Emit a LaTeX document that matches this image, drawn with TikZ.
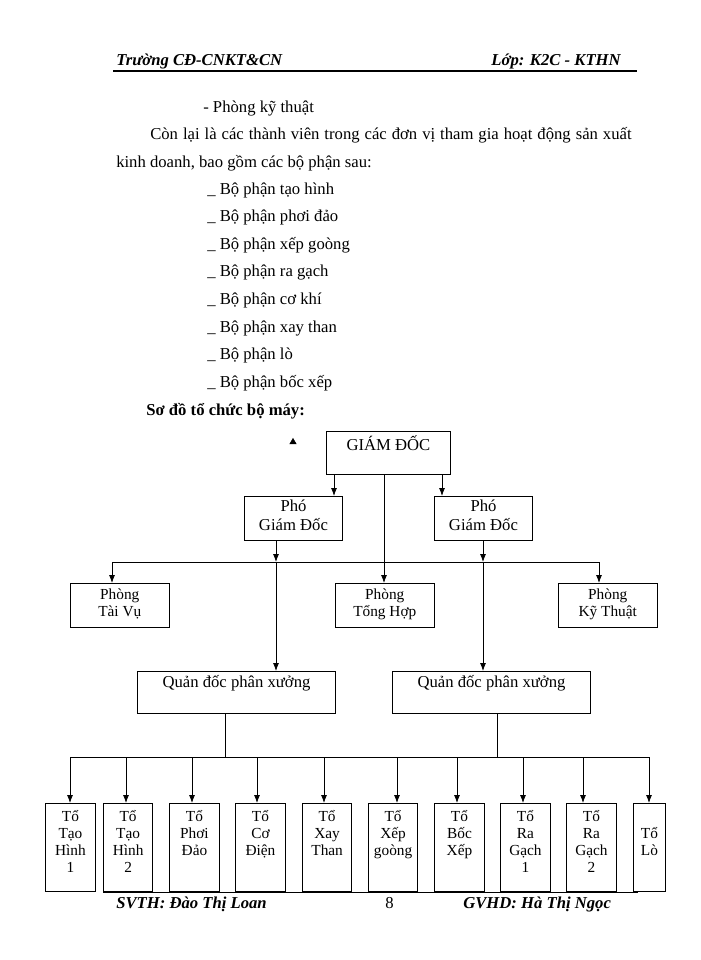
\documentclass[tikz,border=0pt]{standalone}
\usepackage{fontspec}
\setmainfont{Liberation Serif}
\usetikzlibrary{arrows.meta,shapes.geometric}
\newcommand\bxt[4]{\parbox[c][#2pt][t]{#1pt}{\centering\vspace*{#3pt}#4}}
\begin{document}
\begin{tikzpicture}[x=0.75pt,y=-0.75pt,
  box/.style={draw,line width=0.7pt,inner sep=0pt,anchor=north west},
  arr/.style={line width=0.6pt,-{Latex[length=6pt,width=4.5pt]}},
  ln/.style={line width=0.6pt},
  txt/.style={inner sep=0pt,anchor=base west,font=\fontsize{12.5}{15}\selectfont},
  hd/.style={inner sep=0pt,anchor=base west,font=\fontsize{12.5}{14}\selectfont\bfseries\itshape}]
\useasboundingbox[fill=white] (0,0) rectangle (700,960);
% header
\node[hd] (h1) at (116,65) {Trường CĐ-CNKT\&CN};
\node[hd,anchor=base east] (h2) at (621,65) {Lớp: K2C - KTHN};
\draw[line width=1pt] (113,71) -- (637,71);
% text
\node[txt] (t0) at (203,112) {- Phòng kỹ thuật};
\node[txt] (t1) at (150,139) {\makebox[361pt][s]{Còn lại là các thành viên trong các đơn vị tham gia hoạt động sản xuất}};
\node[txt] (t2) at (116,167) {kinh doanh, bao gồm các bộ phận sau:};
\foreach \s [count=\i] in {tạo hình,phơi đảo,xếp goòng,ra gạch,cơ khí,xay than,lò,bốc xếp}
  \node[txt] (l\i) at (207,166.5+27.6*\i) {\_ Bộ phận \s};
\node[txt,font=\fontsize{12.5}{15}\selectfont\bfseries] (sd) at (146,415) {Sơ đồ tổ chức bộ máy:};
\node[fill,draw,isosceles triangle,shape border rotate=90,inner sep=0pt,minimum size=4pt,isosceles triangle apex angle=60] (tri) at (293,442) {};
% chart
\begin{scope}[font=\fontsize{12.5}{14.5}\selectfont]
\node[box] (gd) at (326,431) {\bxt{93}{32}{3}{GIÁM ĐỐC}};
\node[box] (pl) at (244,496) {\bxt{73.5}{33}{2.5}{Phó\\Giám Đốc}};
\node[box] (pr) at (434,496) {\bxt{73.5}{33}{2.5}{Phó\\Giám Đốc}};
\node[box] (ql) at (137,671) {\bxt{148.5}{31.5}{3}{Quản đốc phân xưởng}};
\node[box] (qr) at (392,671) {\bxt{148.5}{31.5}{3}{Quản đốc phân xưởng}};
\end{scope}
\begin{scope}[font=\fontsize{11.5}{12.75}\selectfont]
\node[box] (tv) at (70,583) {\bxt{74}{33}{4}{Phòng\\Tài Vụ}};
\node[box] (th) at (335,583) {\bxt{74}{33}{4}{Phòng\\Tổng Hợp}};
\node[box] (kt) at (558,583) {\bxt{74}{33}{4}{Phòng\\Kỹ Thuật}};
\node[box] (b1) at (45,803) {\bxt{37.5}{66}{5}{Tổ\\Tạo\\Hình\\1}};
\node[box] (b2) at (103,803) {\bxt{37}{66}{5}{Tổ\\Tạo\\Hình\\2}};
\node[box] (b3) at (169,803) {\bxt{37.5}{66}{5}{Tổ\\Phơi\\Đảo}};
\node[box] (b4) at (235,803) {\bxt{37.5}{66}{5}{Tổ\\Cơ\\Điện}};
\node[box] (b5) at (302,803) {\bxt{37}{66}{5}{Tổ\\Xay\\Than}};
\node[box] (b6) at (368,803) {\bxt{37}{66}{5}{Tổ\\Xếp\\goòng}};
\node[box] (b7) at (434,803) {\bxt{37.5}{66}{5}{Tổ\\Bốc\\Xếp}};
\node[box] (b8) at (500,803) {\bxt{37.5}{66}{5}{Tổ\\Ra\\Gạch\\1}};
\node[box] (b9) at (566,803) {\bxt{37.5}{66}{5}{Tổ\\Ra\\Gạch\\2}};
\node[box] (b10) at (633,803) {\bxt{24}{66}{18}{Tổ\\Lò}};
\end{scope}
% connectors
\coordinate (j1) at (112,562); \coordinate (j2) at (599,562);
\coordinate (pla) at (276,562); \coordinate (pra) at (483,562);
\draw[arr] (gd.south -| 334,0) -- (pl.north -| 334,0);
\draw[arr] (gd.south -| 442,0) -- (pr.north -| 442,0);
\draw[arr] (gd.south -| 384,0) -- (th.north -| 384,0);
\draw[arr] (pl.south -| pla) -- (pla);
\draw[arr] (pr.south -| pra) -- (pra);
\draw[ln] (j1) -- (j2);
\draw[arr] (j1) -- (tv.north -| j1);
\draw[arr] (j2) -- (kt.north -| j2);
\draw[arr] (pla) -- (ql.north -| pla);
\draw[arr] (pra) -- (qr.north -| pra);
\coordinate (bl) at (70,757); \coordinate (br) at (649,757);
\draw[ln] (bl) -- (br);
\draw[ln] (ql.south -| 225,0) -- (225,757);
\draw[ln] (qr.south -| 497,0) -- (497,757);
\foreach \b/\x in {b1/70,b2/126,b3/192,b4/257,b5/324,b6/397,b7/457,b8/523,b9/583,b10/649}
  \draw[arr] (\x,757) -- (\b.north -| \x,0);
\draw[ln] (103,892.5) -- (638,892.5);
% footer
\node[hd] (f1) at (116,908) {SVTH: Đào Thị Loan};
\node[inner sep=0pt,anchor=base west,font=\fontsize{12.5}{14}\selectfont] (f2) at (385,908) {8};
\node[hd] (f3) at (463,908) {GVHD: Hà Thị Ngọc};
\end{tikzpicture}
\end{document}
